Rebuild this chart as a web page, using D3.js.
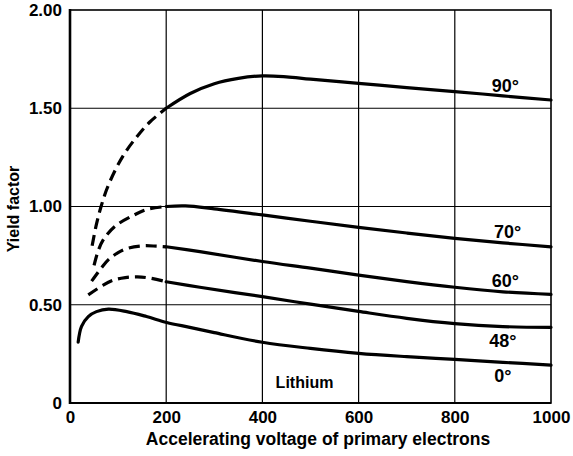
<!DOCTYPE html>
<html><head><meta charset="utf-8">
<script src="https://cdn.jsdelivr.net/npm/d3@7"></script>
<style>body{margin:0;background:#fff}svg{display:block}text{font-family:"Liberation Sans",Arial,sans-serif;font-weight:bold;fill:#000}</style>
</head><body>
<svg id="c" width="573" height="456"></svg>
<script>
const xTicks = [0, 200, 400, 600, 800, 1000];
const yTicks = [0, 0.5, 1.0, 1.5, 2.0];
const yTickLabels = ["0", "0.50", "1.00", "1.50", "2.00"];

// each series: dashed (low-voltage) part and solid part
const s90Dashed = [[46,0.80],[55,0.91],[64,0.995],[76,1.085],[94,1.185],[114,1.272],[139,1.355],[166,1.43],[200,1.50]];
const s90Solid  = [[200,1.50],[250,1.575],[300,1.625],[350,1.652],[400,1.665],[450,1.660],[500,1.648],[600,1.627],[700,1.605],[800,1.585],[900,1.563],[1000,1.542]];
const s70Dashed = [[50,0.70],[58,0.77],[69,0.83],[94,0.90],[132,0.955],[160,0.985],[200,1.00]];
const s70Solid  = [[200,1.00],[240,1.003],[300,0.988],[400,0.957],[500,0.925],[600,0.894],[700,0.865],[800,0.838],[900,0.815],[1000,0.795]];
const s60Dashed = [[45,0.62],[66,0.69],[80,0.73],[100,0.765],[120,0.787],[152,0.80],[180,0.798],[200,0.795]];
const s60Solid  = [[200,0.795],[270,0.77],[400,0.72],[500,0.686],[600,0.651],[700,0.618],[800,0.589],[900,0.566],[1000,0.553]];
const s48Dashed = [[38,0.55],[69,0.60],[90,0.625],[115,0.638],[140,0.642],[165,0.636],[200,0.617]];
const s48Solid  = [[200,0.617],[270,0.589],[400,0.541],[500,0.503],[600,0.466],[700,0.431],[800,0.404],[900,0.389],[1000,0.385]];
const s0Solid   = [[17,0.31],[24,0.39],[38,0.44],[55,0.465],[80,0.478],[118,0.465],[159,0.44],[201,0.41],[249,0.385],[300,0.358],[400,0.309],[500,0.278],[600,0.253],[700,0.236],[800,0.222],[900,0.207],[1000,0.193]];

const seriesLabels = [
  {text:"90°", x:905, y:1.585},
  {text:"70°", x:910, y:0.84},
  {text:"60°", x:905, y:0.59},
  {text:"48°", x:900, y:0.285},
  {text:"0°",  x:900, y:0.105}
];
const panelNote = {text:"Lithium", x:500, y:0.075};

const FONT = "'Liberation Sans',Arial,sans-serif";
const svg = d3.select("#c");
const x = d3.scaleLinear().domain([0,1000]).range([70,551]);
const y = d3.scaleLinear().domain([0,2]).range([403,10]);

// grid
svg.append("g").selectAll("line").data(xTicks.slice(1,-1)).join("line")
  .attr("x1",d=>x(d)).attr("x2",d=>x(d)).attr("y1",y(0)).attr("y2",y(2))
  .attr("stroke","#000").attr("stroke-width",1.2);
svg.append("g").selectAll("line").data(yTicks.slice(1,-1)).join("line")
  .attr("x1",x(0)).attr("x2",x(1000)).attr("y1",d=>y(d)).attr("y2",d=>y(d))
  .attr("stroke","#000").attr("stroke-width",1.2);

// frame
svg.append("rect").attr("x",x(0)).attr("y",y(2)).attr("width",x(1000)-x(0)).attr("height",y(0)-y(2))
  .attr("fill","none").attr("stroke","#000").attr("stroke-width",1.6);
svg.append("line").attr("x1",x(0)).attr("x2",x(0)).attr("y1",y(2)-1).attr("y2",y(0)+1).attr("stroke","#000").attr("stroke-width",2.6);
svg.append("line").attr("x1",x(0)).attr("x2",x(1000)).attr("y1",y(0)).attr("y2",y(0)).attr("stroke","#000").attr("stroke-width",2.2);

// axes (labels only)
const xAxis = d3.axisBottom(x).tickValues(xTicks).tickSize(0).tickPadding(8).tickFormat(d3.format("d"));
const gx = svg.append("g").attr("transform",`translate(0,${y(0)})`).call(xAxis);
gx.select(".domain").remove();
gx.selectAll("text").attr("font-size",17).style("font-family",FONT).style("font-weight","bold");

const yAxis = d3.axisLeft(y).tickValues(yTicks).tickSize(0).tickPadding(8).tickFormat((d,i)=>yTickLabels[i]);
const gy = svg.append("g").attr("transform",`translate(${x(0)},0)`).call(yAxis);
gy.select(".domain").remove();
gy.selectAll("text").attr("font-size",17).style("font-family",FONT).style("font-weight","bold");

svg.append("text").attr("x",318).attr("y",445).attr("text-anchor","middle")
  .attr("font-size",17.5).text("Accelerating voltage of primary electrons");
svg.append("text").attr("transform","translate(19,209) rotate(-90)").attr("text-anchor","middle")
  .attr("font-size",16).text("Yield factor");

// curves
const line = d3.line().x(d=>x(d[0])).y(d=>y(d[1])).curve(d3.curveCatmullRom.alpha(0.5));
const g = svg.append("g").attr("fill","none").attr("stroke","#000").attr("stroke-width",3.2).attr("stroke-linecap","butt");
[s90Dashed,s70Dashed,s60Dashed,s48Dashed].forEach(s=>{
  g.append("path").attr("d",line(s)).attr("stroke-dasharray","11,6");
});
[s90Solid,s70Solid,s60Solid,s48Solid,s0Solid].forEach(s=>{
  g.append("path").attr("d",line(s)).attr("stroke-linecap","round");
});

// labels
svg.append("g").selectAll("text").data(seriesLabels).join("text")
  .attr("x",d=>x(d.x)).attr("y",d=>y(d.y)).attr("text-anchor","middle").attr("font-size",18).text(d=>d.text);
svg.append("text").attr("x",x(panelNote.x)-6).attr("y",y(panelNote.y)).attr("text-anchor","middle")
  .attr("font-size",16).text(panelNote.text);
</script>
</body></html>
